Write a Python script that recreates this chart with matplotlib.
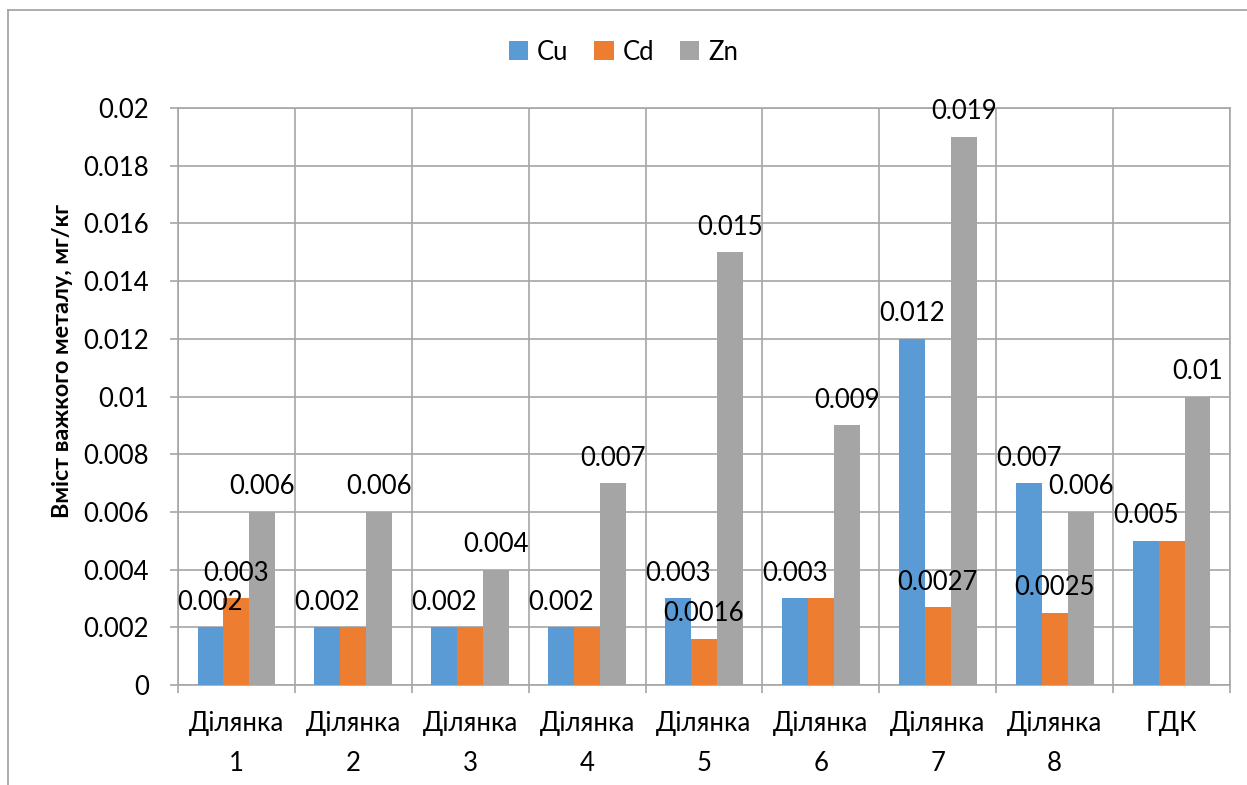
import matplotlib
matplotlib.use("Agg")
import matplotlib.pyplot as plt
import numpy as np
from matplotlib.lines import Line2D

plt.rcParams['font.family'] = ['Lato', 'Open Sans', 'DejaVu Sans']

categories = ["Ділянка\n1", "Ділянка\n2", "Ділянка\n3", "Ділянка\n4", "Ділянка\n5",
              "Ділянка\n6", "Ділянка\n7", "Ділянка\n8", "ГДК"]
series_names = ["Cu", "Cd", "Zn"]
cu = [0.002, 0.002, 0.002, 0.002, 0.003, 0.003, 0.012, 0.007, 0.005]
cd = [0.003, 0.002, 0.002, 0.002, 0.0016, 0.003, 0.0027, 0.0025, 0.005]
zn = [0.006, 0.006, 0.004, 0.007, 0.015, 0.009, 0.019, 0.006, 0.01]
cu_labels = ["0.002", "0.002", "0.002", "0.002", "0.003", "0.003", "0.012", "0.007", "0.005"]
cd_labels = ["0.003", "", "", "", "0.0016", "", "0.0027", "0.0025", ""]
zn_labels = ["0.006", "0.006", "0.004", "0.007", "0.015", "0.009", "0.019", "0.006", "0.01"]
yticks = [0, 0.002, 0.004, 0.006, 0.008, 0.01, 0.012, 0.014, 0.016, 0.018, 0.02]
ytick_labels = ["0", "0.002", "0.004", "0.006", "0.008", "0.01", "0.012", "0.014", "0.016", "0.018", "0.02"]

colors = ["#5B9BD5", "#ED7D31", "#A5A5A5"]
grid_c = "#A6A6A6"

fig = plt.figure(figsize=(12.47, 7.85), dpi=100)
ax = fig.add_axes([178/1247, 1-685/785, (1230-178)/1247, (685-108)/785])

x = np.arange(len(categories))
w = 0.222
for i, (vals, labs) in enumerate(zip([cu, cd, zn], [cu_labels, cd_labels, zn_labels])):
    pos = x + (i - 1) * w
    ax.bar(pos, vals, width=w, color=colors[i], label=series_names[i], zorder=3)
    for p, v, t in zip(pos, vals, labs):
        if t:
            ax.annotate(t, (p, v), xytext=(0, 9), textcoords="offset points",
                        ha="center", va="bottom", fontsize=18.5, color="black", zorder=4)

ax.set_xlim(-0.5, len(categories) - 0.5)
ax.set_ylim(0, 0.02)
ax.set_yticks(yticks)
ax.set_yticklabels(ytick_labels, fontsize=18.5)
ax.set_xticks(x)
ax.set_xticklabels(categories, fontsize=18.5, linespacing=1.75)
ax.set_xticks(np.arange(len(categories) + 1) - 0.5, minor=True)
ax.tick_params(axis="x", which="major", length=0, pad=19)
ax.tick_params(axis="x", which="minor", length=6, color=grid_c, width=1.2)
ax.tick_params(axis="y", length=6, color=grid_c, width=1.2, pad=15)
ax.grid(True, axis="y", color=grid_c, linewidth=1.2, zorder=0)
ax.grid(True, axis="x", which="minor", color=grid_c, linewidth=1.2, zorder=0)
for s in ax.spines.values():
    s.set_color(grid_c)
    s.set_linewidth(1.2)

ax.set_ylabel("Вміст важкого металу, мг/кг", fontsize=16.8, fontweight="bold")
ax.yaxis.set_label_coords(-0.100, 0.561)

fig.legend(loc="center", bbox_to_anchor=(0.5, 1-52/785), ncol=3, frameon=False,
           fontsize=18.5, handlelength=0.75, handleheight=0.75, columnspacing=1.0, handletextpad=0.35)

# chart frame
fig.add_artist(Line2D([8/1247, 8/1247], [0, 1-10/785], color="#A0A0A0", lw=1.2, transform=fig.transFigure))
fig.add_artist(Line2D([8/1247, 1], [1-10/785, 1-10/785], color="#A0A0A0", lw=1.2, transform=fig.transFigure))

fig.savefig("out.png", dpi=100)
